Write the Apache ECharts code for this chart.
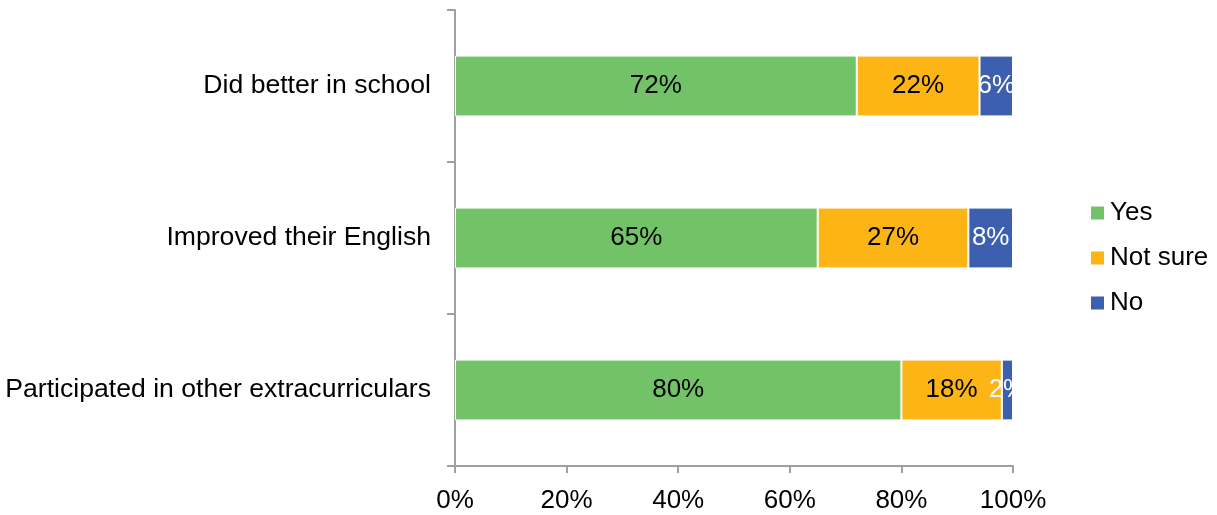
<!DOCTYPE html>
<html>
<head>
<meta charset="utf-8">
<script src="https://cdn.jsdelivr.net/npm/echarts@6/dist/echarts.min.js"></script>
<style>html,body{margin:0;padding:0;background:#fff;}#c{width:1217px;height:515px;}</style>
</head>
<body>
<div id="c"></div>
<script>
const categories = ['Did better in school', 'Improved their English', 'Participated in other extracurriculars'];
const yesValues = [72, 65, 80];
const notSureValues = [22, 27, 18];
const noValues = [6, 8, 2];
const xTicks = [0, 20, 40, 60, 80, 100];

const FONT = '"Liberation Sans", Arial, sans-serif';
const FS = 26;
const chart = echarts.init(document.getElementById('c'));
function mk(name, data, color, labelColor) {
  return {
    name: name, type: 'bar', stack: 'total', data: data, barWidth: '40%',
    itemStyle: { color: color, borderColor: '#fff', borderWidth: 1 },
    label: { show: true, position: 'inside', offset: [0, 2], formatter: p => p.value + '%', color: labelColor,
      fontSize: FS, fontFamily: FONT },
    labelLayout: { hideOverlap: false },
    emphasis: { disabled: true }
  };
}
chart.setOption({
  animation: false,
  textStyle: { fontFamily: FONT },
  grid: { left: 455, right: 204, top: 10, bottom: 49, containLabel: false },
  legend: {
    orient: 'vertical', left: 1084, top: 195, itemWidth: 15, itemHeight: 15, itemGap: 19,
    icon: 'rect', textStyle: { fontSize: FS, fontFamily: FONT, color: '#000', padding: [0, 0, 0, 0] },
    data: ['Yes', 'Not sure', 'No']
  },
  xAxis: {
    type: 'value', min: 0, max: 100, interval: 20,
    axisLine: { show: true, lineStyle: { color: '#a0a0a0', width: 2 } },
    axisTick: { show: true, length: 7, lineStyle: { color: '#a0a0a0', width: 2 } },
    splitLine: { show: false },
    axisLabel: { formatter: v => xTicks.includes(v) ? v + '%' : '', fontSize: FS, color: '#000', fontFamily: FONT, margin: 22 }
  },
  yAxis: {
    type: 'category', data: categories, inverse: true,
    axisLine: { show: true, lineStyle: { color: '#a0a0a0', width: 2 } },
    axisTick: { show: true, length: 8, lineStyle: { color: '#a0a0a0', width: 2 } },
    axisLabel: { fontSize: 26.6, color: '#000', fontFamily: FONT, margin: 24, padding: [4, 0, 0, 0] }
  },
  series: [
    mk('Yes', yesValues, '#72C268', '#000'),
    mk('Not sure', notSureValues, '#FDB515', '#000'),
    mk('No', noValues, '#3C5FAF', '#fff')
  ]
});
</script>
</body>
</html>
